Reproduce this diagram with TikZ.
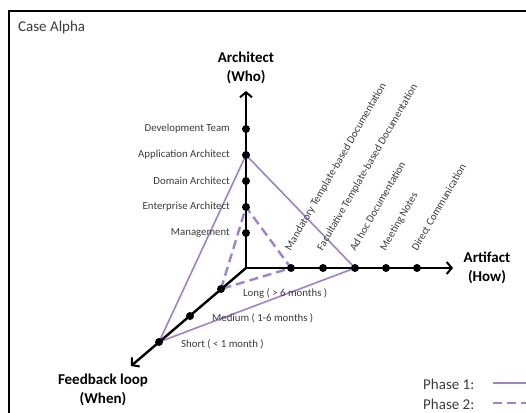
\documentclass[tikz,border=0pt]{standalone}
\usepackage{fontspec}
\setmainfont{Carlito}
\usetikzlibrary{arrows.meta}
\definecolor{phase}{RGB}{158,130,206}
\definecolor{labgray}{RGB}{60,60,60}
\begin{document}
\begin{tikzpicture}[x=1pt,y=-1pt,
  axis/.style={line width=2.4pt, -{Straight Barb[length=5pt,width=12pt,line width=2pt]}},
  tick/.style={circle, fill=black, inner sep=0pt, minimum size=8pt},
  lab/.style={font=\fontsize{10.8}{12}\selectfont, text=labgray, inner sep=0pt},
  axistitle/.style={font=\fontsize{15}{19}\selectfont\bfseries, align=center, inner sep=0pt},
  artlab/.style={lab, rotate=60, anchor=west},
  legendtext/.style={font=\fontsize{15}{18}\selectfont, text=labgray, anchor=west, inner sep=0pt},
  phasea/.style={draw=phase, line width=1.6pt},
  phaseb/.style={draw=phase, line width=2.4pt, dash pattern=on 9pt off 5pt},
]
\clip (0,0) rectangle (526,412);
\fill[white] (0,0) rectangle (526,412);
\draw[line width=2pt] (9,11) rectangle (560,440);

\node[legendtext, anchor=base west] (case) at (18,32) {Case Alpha};

% axis end points
\coordinate (O) at (246,268);
\coordinate (up) at (246,91);
\coordinate (right) at (453,268);
\coordinate (down) at (131,366);

% corners of the two phase triangles
\coordinate (app) at (246,155);
\coordinate (ent) at (246,207);
\coordinate (adhoc) at (355,268);
\coordinate (mand) at (291,268);
\coordinate (short) at (159,342);
\coordinate (long) at (221,289);

\draw[phasea] (short) -- (app) -- (adhoc) -- cycle;
\draw[phaseb] (long) -- (ent) -- (mand) -- (long);

\draw[axis] (O) -- (up);
\draw[axis] (O) -- (right);
\draw[axis] (O) -- (down);

% who
\foreach \n/\y/\t in {dev/129/Development Team, appl/155/Application Architect, dom/181/Domain Architect, entp/207/Enterprise Architect, man/233/Management}{
  \node[tick] (t\n) at (246,\y) {};
  \node[lab, anchor=east] (l\n) at (230,\y) {\t};
}

% how
\foreach \n/\x/\t in {mt/291/Mandatory Template-based Documentation, ft/323/Facultative Template-based Documentation, ah/355/Ad hoc Documentation, mn/386/Meeting Notes, dc/417/Direct Communication}{
  \node[tick] (t\n) at (\x,268) {};
  \node[artlab] (l\n) at (\x-3,250) {\t};
}

% when
\node[tick] (tlong) at (long) {};
\node[tick] (tmed) at (190,316) {};
\node[tick] (tshort) at (short) {};
\node[lab, anchor=west] (llong) at (243,293) {Long ( > 6 months )};
\node[lab, anchor=west] (lmed) at (212,318) {Medium ( 1-6 months )};
\node[lab, anchor=west] (lshort) at (181,344) {Short ( < 1 month )};

\node[axistitle] (who) at (246,68) {Architect\\(Who)};
\node[axistitle] (how) at (487,268) {Artifact\\(How)};
\node[axistitle] (when) at (103,390) {Feedback loop\\(When)};

% legend
\node[legendtext] (p1) at (423,384) {Phase 1:};
\node[legendtext] (p2) at (423,404) {Phase 2:};
\coordinate (p1s) at (493,383);
\coordinate (p1e) at (545,383);
\coordinate (p2s) at (493,403);
\coordinate (p2e) at (545,403);
\draw[phasea] (p1s) -- (p1e);
\draw[phaseb] (p2s) -- (p2e);
\end{tikzpicture}
\end{document}
